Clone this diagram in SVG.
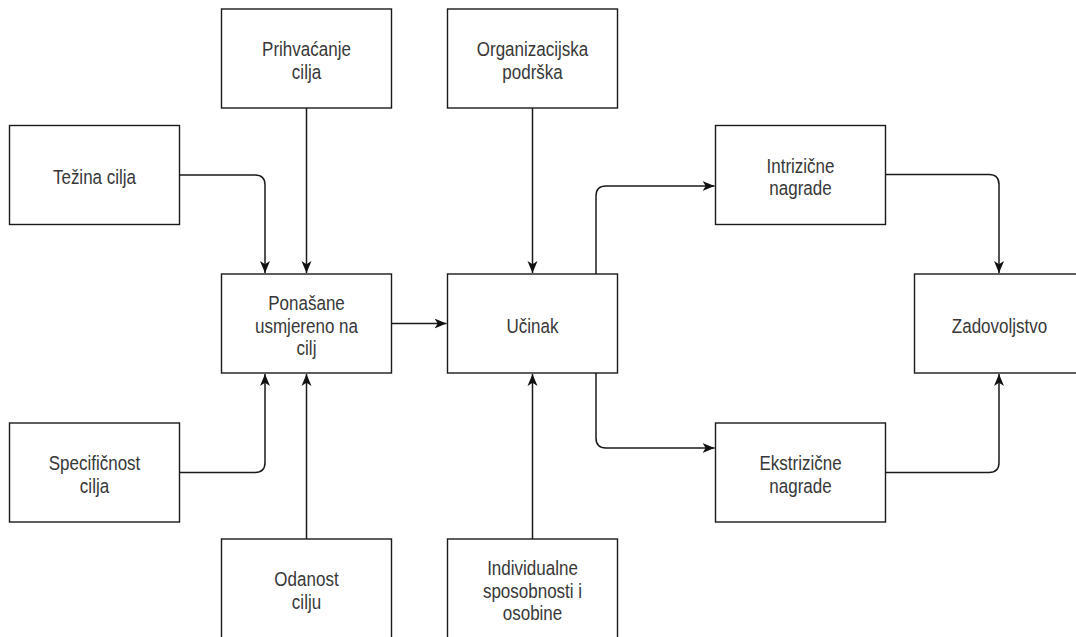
<svg xmlns="http://www.w3.org/2000/svg" width="1076" height="637" viewBox="0 0 1076 637">
<style>
.box{fill:#fff;stroke:#1a1a1a;stroke-width:1.4}
.t{font-family:"Liberation Sans",Arial,Helvetica,sans-serif;font-size:17px;fill:#383838;text-anchor:middle}
.c{fill:none;stroke:#1a1a1a;stroke-width:1.5;marker-end:url(#arr)}
</style>
<defs>
<marker id="arr" viewBox="0 0 13 11" refX="12" refY="5.5" markerWidth="13" markerHeight="11" markerUnits="userSpaceOnUse" orient="auto">
<path d="M12,5.5 L0,0.5 L3.2,5.5 L0,10.5 Z" fill="#111"/>
</marker>
</defs>
<rect width="1076" height="637" fill="#fff"/>
<g id="connectors">
<path class="c" d="M179.5,175 H255 Q265,175 265,185 V273"/>
<path class="c" d="M306.5,108 V273"/>
<path class="c" d="M179.5,472.5 H255 Q265,472.5 265,462.5 V374"/>
<path class="c" d="M306.5,539 V374"/>
<path class="c" d="M391.5,323.5 H446.5"/>
<path class="c" d="M532.5,108 V273"/>
<path class="c" d="M532.5,539 V374"/>
<path class="c" d="M596,274 V196 Q596,186 606,186 H714.5"/>
<path class="c" d="M596,373 V438 Q596,448 606,448 H714.5"/>
<path class="c" d="M885.5,174.5 H989 Q999,174.5 999,184.5 V273"/>
<path class="c" d="M885.5,472.5 H989 Q999,472.5 999,462.5 V374"/>
</g>
<g id="prihvacanje">
<rect class="box" x="221.5" y="9" width="170" height="99"/>
<text class="t" transform="translate(306.5,58.5) scale(1,1.17)"><tspan x="0" y="-2.05">Prihvaćanje</tspan><tspan x="0" y="17.45">cilja</tspan></text>
</g>
<g id="organizacijska">
<rect class="box" x="447.5" y="9" width="170" height="99"/>
<text class="t" transform="translate(532.5,58.5) scale(1,1.17)"><tspan x="0" y="-2.05">Organizacijska</tspan><tspan x="0" y="17.45">podrška</tspan></text>
</g>
<g id="tezina">
<rect class="box" x="9.5" y="125.5" width="170" height="99"/>
<text class="t" transform="translate(94.5,175) scale(1,1.17)"><tspan x="0" y="7.7">Težina cilja</tspan></text>
</g>
<g id="intrizicne">
<rect class="box" x="715.5" y="125.5" width="170" height="99"/>
<text class="t" transform="translate(800.5,175) scale(1,1.17)"><tspan x="0" y="-2.05">Intrizične</tspan><tspan x="0" y="17.45">nagrade</tspan></text>
</g>
<g id="ponasane">
<rect class="box" x="221.5" y="274" width="170" height="99"/>
<text class="t" transform="translate(306.5,323.5) scale(1,1.17)"><tspan x="0" y="-11.8">Ponašane</tspan><tspan x="0" y="7.7">usmjereno na</tspan><tspan x="0" y="27.2">cilj</tspan></text>
</g>
<g id="ucinak">
<rect class="box" x="447.5" y="274" width="170" height="99"/>
<text class="t" transform="translate(532.5,323.5) scale(1,1.17)"><tspan x="0" y="7.7">Učinak</tspan></text>
</g>
<g id="zadovoljstvo">
<rect class="box" x="914.5" y="274" width="170" height="99"/>
<text class="t" transform="translate(999.5,323.5) scale(1,1.17)"><tspan x="0" y="7.7">Zadovoljstvo</tspan></text>
</g>
<g id="specificnost">
<rect class="box" x="9.5" y="423" width="170" height="99"/>
<text class="t" transform="translate(94.5,472.5) scale(1,1.17)"><tspan x="0" y="-2.05">Specifičnost</tspan><tspan x="0" y="17.45">cilja</tspan></text>
</g>
<g id="ekstrizicne">
<rect class="box" x="715.5" y="423" width="170" height="99"/>
<text class="t" transform="translate(800.5,472.5) scale(1,1.17)"><tspan x="0" y="-2.05">Ekstrizične</tspan><tspan x="0" y="17.45">nagrade</tspan></text>
</g>
<g id="odanost">
<rect class="box" x="221.5" y="539" width="170" height="99"/>
<text class="t" transform="translate(306.5,588.5) scale(1,1.17)"><tspan x="0" y="-2.05">Odanost</tspan><tspan x="0" y="17.45">cilju</tspan></text>
</g>
<g id="individualne">
<rect class="box" x="447.5" y="539" width="170" height="99"/>
<text class="t" transform="translate(532.5,588.5) scale(1,1.17)"><tspan x="0" y="-11.8">Individualne</tspan><tspan x="0" y="7.7">sposobnosti i</tspan><tspan x="0" y="27.2">osobine</tspan></text>
</g>
</svg>
